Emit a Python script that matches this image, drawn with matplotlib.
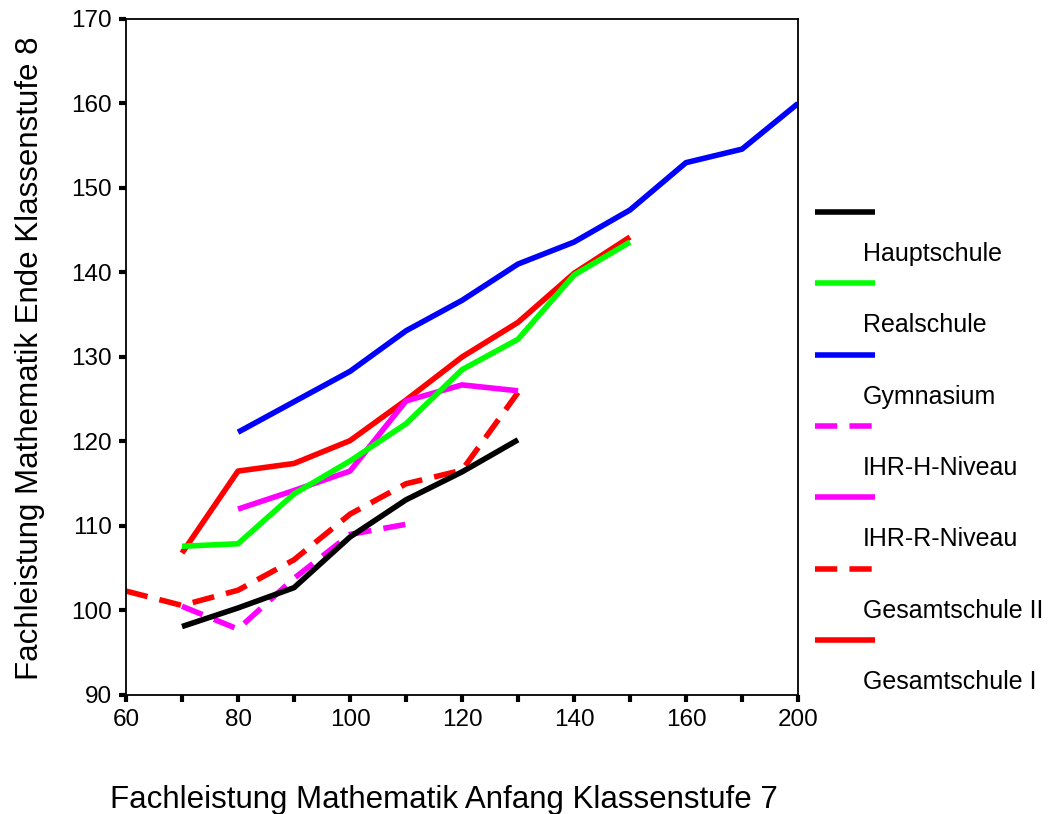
import numpy as np
import matplotlib
matplotlib.use("Agg")
import matplotlib.pyplot as plt
from matplotlib.lines import Line2D

plt.rcParams['font.family'] = ['Liberation Sans', 'DejaVu Sans']

# Kategorien der x-Achse (nicht linear: 180 und 190 fehlen)
kategorien = [60, 70, 80, 90, 100, 110, 120, 130, 140, 150, 160, 170, 200]
nan = np.nan

hauptschule = [nan, 98.1, 100.3, 102.7, 108.7, 113.1, 116.4, 120.2, nan, nan, nan, nan, nan]
realschule = [nan, 107.6, 107.9, 113.8, 117.7, 122.1, 128.5, 132.1, 139.7, 143.6, nan, nan, nan]
gymnasium = [nan, nan, 121.1, 124.7, 128.3, 133.1, 136.7, 141.0, 143.6, 147.4, 153.0, 154.6, 160.0]
ihr_h = [nan, 100.5, 97.8, 103.8, 109.0, 110.2, nan, nan, nan, nan, nan, nan, nan]
ihr_r = [nan, nan, 112.0, 114.2, 116.5, 124.8, 126.7, 126.0, nan, nan, nan, nan, nan]
gesamt2 = [102.3, 100.6, 102.4, 106.0, 111.4, 115.0, 116.6, 125.8, nan, nan, nan, nan, nan]
gesamt1 = [nan, 106.8, 116.5, 117.4, 120.1, 124.9, 130.0, 134.1, 139.9, 144.2, nan, nan, nan]

namen = ["Hauptschule", "Realschule", "Gymnasium", "IHR-H-Niveau",
         "IHR-R-Niveau", "Gesamtschule II", "Gesamtschule I"]
reihen = [hauptschule, realschule, gymnasium, ihr_h, ihr_r, gesamt2, gesamt1]
farben = ["black", "#00ff00", "#0000ff", "#ff00ff", "#ff00ff", "#ff0000", "#ff0000"]
stile = ["-", "-", "-", (0, (4, 2.2)), "-", (0, (4, 2.2)), "-"]

W, H = 1048, 814
fig = plt.figure(figsize=(W / 100, H / 100), dpi=100)
ax = fig.add_axes([126 / W, 1 - 695 / H, 672 / W, 676 / H])

idx = np.arange(len(kategorien))
# Hauptschule zuletzt, damit sie oben liegt
for werte, f, s in list(zip(reihen, farben, stile))[::-1]:
    ax.plot(idx, werte, color=f, linestyle=s, linewidth=4, solid_capstyle='butt',
            dash_capstyle='butt')

ax.set_xlim(0, len(kategorien) - 1)
ax.set_ylim(90, 170)
ax.set_xticks(idx)
ax.set_xticklabels([str(k) if (i % 2 == 0 or k == 200) and k != 170 else ""
                    for i, k in enumerate(kategorien)])
ax.set_yticks(np.arange(90, 171, 10))
ax.tick_params(direction='out', length=5, width=3, labelsize=17.5, pad=5)
for sp in ax.spines.values():
    sp.set_linewidth(1.3)

# Achsentitel frei positioniert
fig.text(444 / W, 1 - 808 / H, "Fachleistung Mathematik Anfang Klassenstufe 7",
         fontsize=22.5, ha='center', va='baseline')
fig.text(30 / W, 1 - 358 / H, "Fachleistung Mathematik Ende Klassenstufe 8",
         fontsize=22.5, ha='center', va='center', rotation=90)

# Legende von Hand: Linie oben, Beschriftung eine halbe Zeile darunter
for k, (name, f, s) in enumerate(zip(namen, farben, stile)):
    yl = 212 + k * 71.3
    yt = 254 + k * 71.3
    fig.add_artist(Line2D([815 / W, 875 / W], [1 - yl / H, 1 - yl / H], color=f,
                          linestyle=s, linewidth=4, solid_capstyle='butt',
                          dash_capstyle='butt'))
    fig.text(863 / W, 1 - yt / H, name, fontsize=18, va='center', ha='left')

fig.savefig("out.png", dpi=100)
